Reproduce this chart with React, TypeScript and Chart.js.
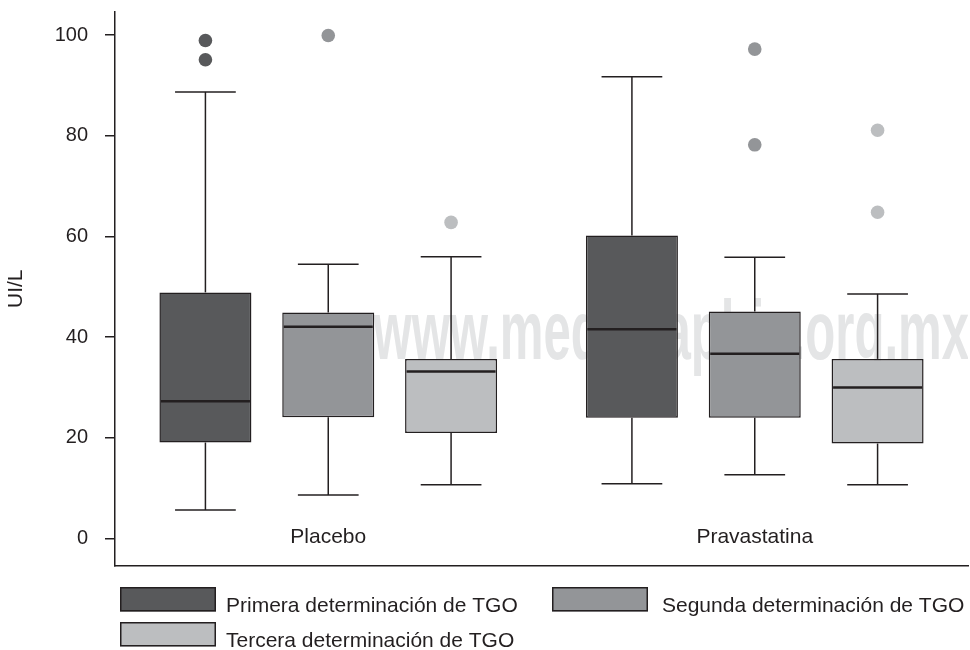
import { useEffect, useRef } from 'react';
import { Chart, registerables } from 'chart.js';

Chart.register(...registerables);

// Groups on the x axis and the three TGO determinations
const groups = ['Placebo', 'Pravastatina'];
const seriesLabels = [
  'Primera determinación de TGO',
  'Segunda determinación de TGO',
  'Tercera determinación de TGO',
];

// Box-plot statistics: one row per determination, one column per group
const whiskerLow = [
  [5.7, 10.9],
  [8.7, 12.7],
  [10.7, 10.7],
];
const quartile1 = [
  [19.1, 24.0],
  [24.1, 24.0],
  [21.0, 18.9],
];
const medians = [
  [27.3, 41.6],
  [42.1, 36.7],
  [33.2, 30.0],
];
const quartile3 = [
  [48.9, 60.2],
  [44.9, 45.1],
  [35.7, 35.7],
];
const whiskerHigh = [
  [88.7, 91.7],
  [54.5, 55.9],
  [56.0, 48.6],
];
const outliers = [
  [[98.9, 95.1], []],
  [[99.9], [97.2, 78.2]],
  [[62.8], [81.1, 64.8]],
];

const yTicks = [0, 20, 40, 60, 80, 100];
const yAxisTitle = 'UI/L';
const watermark = 'www.medigraphic.org.mx';

const INK = '#231f20';
const FILLS = ['#58595b', '#939598', '#bcbec0'];
const FONT = '"Liberation Sans", Arial, Helvetica, sans-serif';

// Whiskers, caps, medians, outliers and group names drawn over the floating bars
const boxPlotPlugin = {
  id: 'boxPlotParts',
  beforeDatasetsDraw(chart: any) {
    const { ctx, chartArea } = chart;
    ctx.save();
    ctx.beginPath();
    ctx.rect(chartArea.left, chartArea.top, chartArea.right - chartArea.left, chartArea.bottom - chartArea.top);
    ctx.clip();
    ctx.font = `bold 83px ${FONT}`;
    ctx.fillStyle = '#e4e5e6';
    ctx.textBaseline = 'alphabetic';
    const x0 = chartArea.left + 258.5;
    const w = ctx.measureText(watermark).width;
    const sx = (chartArea.right + 1 - x0) / w;
    ctx.translate(x0, chartArea.top + 347);
    ctx.scale(sx, 1);
    ctx.fillText(watermark, 0, 0);
    ctx.restore();
  },
  afterDatasetsDraw(chart: any) {
    const { ctx, chartArea } = chart;
    const y = chart.scales.y;
    const xs = chart.scales.x;
    const line = (x1: number, y1: number, x2: number, y2: number) => {
      ctx.beginPath();
      ctx.moveTo(x1, y1);
      ctx.lineTo(x2, y2);
      ctx.stroke();
    };
    chart.data.datasets.forEach((_ds: any, si: number) => {
      const meta = chart.getDatasetMeta(si);
      meta.data.forEach((bar: any, gi: number) => {
        const { x, width } = bar.getProps(['x', 'width'], true);
        const cap = width * 0.66;
        const yLo = y.getPixelForValue(whiskerLow[si][gi]);
        const yQ1 = y.getPixelForValue(quartile1[si][gi]);
        const yMed = y.getPixelForValue(medians[si][gi]);
        const yQ3 = y.getPixelForValue(quartile3[si][gi]);
        const yHi = y.getPixelForValue(whiskerHigh[si][gi]);
        ctx.save();
        ctx.strokeStyle = INK;
        ctx.lineWidth = 1.5;
        line(x, yQ3, x, yHi);
        line(x - cap / 2, yHi, x + cap / 2, yHi);
        line(x, yQ1, x, yLo);
        line(x - cap / 2, yLo, x + cap / 2, yLo);
        ctx.lineWidth = 2.5;
        line(x - width / 2 + 1.5, yMed, x + width / 2 - 1.5, yMed);
        ctx.fillStyle = FILLS[si];
        outliers[si][gi].forEach((v: number) => {
          ctx.beginPath();
          ctx.arc(x, y.getPixelForValue(v), 6.8, 0, Math.PI * 2);
          ctx.fill();
        });
        ctx.restore();
      });
    });
    ctx.save();
    ctx.font = `21px ${FONT}`;
    ctx.fillStyle = INK;
    ctx.textAlign = 'center';
    ctx.textBaseline = 'alphabetic';
    groups.forEach((g, i) => {
      ctx.fillText(g, xs.getPixelForValue(i), chartArea.bottom - 23);
    });
    ctx.restore();
  },
};

// Legend laid out as two rows below the plot
const legendSlots = [
  { x: 120, y: 587, tx: 226 },
  { x: 552, y: 587, tx: 662 },
  { x: 120, y: 622, tx: 226 },
];

const legendPlugin = {
  id: 'blockLegend',
  afterDraw(chart: any) {
    const { ctx } = chart;
    ctx.save();
    ctx.font = `21px ${FONT}`;
    ctx.textBaseline = 'alphabetic';
    ctx.textAlign = 'left';
    chart.data.datasets.forEach((ds: any, i: number) => {
      const s = legendSlots[i];
      ctx.fillStyle = ds.backgroundColor;
      ctx.fillRect(s.x, s.y, 96, 24.5);
      ctx.strokeStyle = INK;
      ctx.lineWidth = 1.5;
      ctx.strokeRect(s.x + 0.75, s.y + 0.75, 94.5, 23);
      ctx.fillStyle = INK;
      ctx.fillText(ds.label, s.tx, s.y + 24.5);
    });
    ctx.restore();
  },
};

export default function App() {
  const canvasRef = useRef<HTMLCanvasElement | null>(null);

  useEffect(() => {
    if (!canvasRef.current) return;
    const chart = new Chart(canvasRef.current, {
      type: 'bar',
      data: {
        labels: groups,
        datasets: seriesLabels.map((label, si) => ({
          label,
          data: groups.map((_g, gi) => [quartile1[si][gi], quartile3[si][gi]]),
          backgroundColor: FILLS[si],
          borderColor: INK,
          borderWidth: 1.5,
          borderSkipped: false,
          categoryPercentage: 0.864,
          barPercentage: 0.749,
        })),
      },
      options: {
        animation: false,
        responsive: true,
        maintainAspectRatio: false,
        devicePixelRatio: 1,
        events: [],
        layout: { padding: { left: 0, right: 2, top: 12, bottom: 84.5 } },
        plugins: {
          legend: { display: false },
          tooltip: { enabled: false },
        },
        scales: {
          x: {
            type: 'category',
            grid: { display: false },
            ticks: { display: false },
            border: { display: true, color: INK, width: 1.5 },
            afterFit(scale: any) {
              scale.height = 0;
            },
          },
          y: {
            type: 'linear',
            min: -5.32,
            max: 104.57,
            afterBuildTicks(scale: any) {
              scale.ticks = yTicks.map((v) => ({ value: v }));
            },
            afterFit(scale: any) {
              scale.width = 115;
              scale.paddingTop = 0;
              scale.paddingBottom = 0;
            },
            grid: {
              display: true,
              drawOnChartArea: false,
              drawTicks: true,
              tickLength: 10,
              color: INK,
              lineWidth: 1.5,
            },
            border: { display: true, color: INK, width: 1.5 },
            ticks: {
              padding: 17,
              color: INK,
              font: { family: FONT, size: 20 },
            },
            title: {
              display: true,
              text: yAxisTitle,
              color: INK,
              font: { family: FONT, size: 21 },
              padding: { top: 4, bottom: 4 },
            },
          },
        },
      },
      plugins: [boxPlotPlugin, legendPlugin],
    } as any);
    return () => chart.destroy();
  }, []);

  return (
    <div style={{ position: 'fixed', left: 0, top: 0, width: 970, height: 650, background: '#fff' }}>
      <canvas ref={canvasRef} />
    </div>
  );
}
